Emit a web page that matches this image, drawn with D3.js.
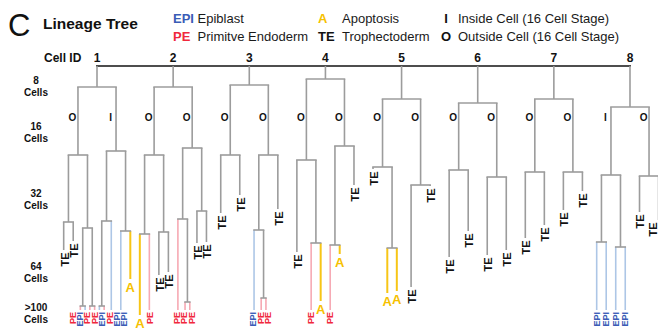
<!DOCTYPE html>
<html><head><meta charset="utf-8">
<script src="https://cdn.jsdelivr.net/npm/d3@7"></script>
<style>
body{margin:0;background:#fff}
svg{display:block}
text{font-family:"Liberation Sans",Arial,Helvetica,sans-serif}
</style>
</head><body>
<svg id="chart" width="658" height="329"></svg>
<script>
// ---------------- DATA ----------------
const cellIds = [1, 2, 3, 4, 5, 6, 7, 8];
const stageLabels = ["8", "16", "32", "64", ">100"];
const stageTimes = [4.5, 16, 32.75, 51, 61.25];
// 16-cell stage position of each daughter (left, right) per cell
const positionLabels = [["O","I"],["O","O"],["O","O"],["O","O"],["O","O"],["O","O"],["O","O"],["I","O"]];
const positionTime = 13.65;
// division events: [lineage path, time]
const divisions = [
  ["1",5.25],["1L",22.25],["1LL",39],["1LR",40.5],["1LRL",60],["1LRR",60],["1R",21.25],["1RL",38.75],["1RLL",60],["1RR",41.25],
  ["2",5.25],["2L",22.25],["2LL",42],["2LR",41.5],["2R",20.5],["2RL",38.25],["2RLR",59],["2RR",36.25],
  ["3",4.75],["3L",22.25],["3R",22.25],["3RL",41],["3RLR",58],
  ["4",3.25],["4L",23.5],["4LR",44.25],["4R",20],["4RL",44.75],
  ["5",8.25],["5L",25.25],["5LR",45.5],["5R",29.75],
  ["6",9.25],["6L",26],["6R",27.75],
  ["7",8.25],["7L",26.5],["7R",26.5],
  ["8",10.25],["8L",27.25],["8LL",44],["8LR",45.25],["8R",27.5]
];
// leaves: [lineage path, end time, fate]
const leaves = [
  ["1LLL",46,"TE"],["1LLR",43.75,"TE"],["1LRLL",61,"PE"],["1LRLR",61,"EPI"],["1LRRL",61,"PE"],["1LRRR",61,"PE"],
  ["1RLLL",61,"EPI"],["1RLLR",61,"PE"],["1RLR",61,"EPI"],["1RRL",61,"EPI"],["1RRR",53.25,"A"],
  ["2LLL",62.25,"A"],["2LLR",61,"PE"],["2LRL",52.25,"TE"],["2LRR",51.5,"TE"],["2RLL",61,"PE"],["2RLRL",61,"PE"],["2RLRR",61,"PE"],
  ["2RRL",44.25,"TE"],["2RRR",44,"TE"],
  ["3LL",36.75,"TE"],["3LR",32.25,"TE"],["3RLL",61,"EPI"],["3RLRL",61,"PE"],["3RLRR",61,"PE"],["3RR",35.75,"TE"],
  ["4LL",46.5,"TE"],["4LRL",61,"PE"],["4LRR",58.75,"A"],["4RLL",61,"PE"],["4RLR",47,"A"],["4RR",29.75,"TE"],
  ["5LL",25.75,"TE"],["5LRL",56.75,"A"],["5LRR",56.25,"A"],["5RL",55.25,"TE"],["5RR",30,"TE"],
  ["6LL",47.75,"TE"],["6LR",41.25,"TE"],["6RL",47.25,"TE"],["6RR",46,"TE"],
  ["7LL",43,"TE"],["7LR",39.75,"TE"],["7RL",36,"TE"],["7RR",31.25,"TE"],
  ["8LLL",61,"EPI"],["8LLR",61,"EPI"],["8LRL",61,"EPI"],["8LRR",61,"EPI"],["8RL",36.5,"TE"],["8RR",38.5,"TE"]
];
const legendKeys = ["EPI","PE","A","TE","I","O"];
const legendTexts = ["Epiblast","Primitve Endoderm","Apoptosis","Trophectoderm","Inside Cell (16 Cell Stage)","Outside Cell (16 Cell Stage)"];

// ---------------- STYLE ----------------
const labelColor = {EPI:"#3a5cb6", PE:"#f0283c", A:"#f6c100", TE:"#111", I:"#111", O:"#111"};
const lineColor = {EPI:"#adc6e6", PE:"#f6a9b3", A:"#f7c516", TE:"#9c9c9c"};
const gray = "#9c9c9c";
const W = 658;

const svg = d3.select("#chart");
const x = d3.scaleLinear().domain([0, 7]).range([97, 630]);
const y = d3.scaleLinear().domain([0, 61]).range([66, 310]);

function pos(path){
  let p = +path[0] - 1;
  for (let k = 1; k < path.length; k++) p += (path[k] === "L" ? -1 : 1) / Math.pow(2, k + 1);
  return p;
}

// build hierarchy
const rows = [{id:"root", parentId:null, t:0}];
divisions.forEach(([id,t]) => rows.push({id, parentId: id.length === 1 ? "root" : id.slice(0,-1), t, leaf:false}));
leaves.forEach(([id,t,fate]) => rows.push({id, parentId: id.slice(0,-1), t, fate, leaf:true}));
const root = d3.stratify().id(d => d.id).parentId(d => d.parentId)(rows);

// ---------------- HEADER ----------------
svg.append("text").attr("x", 8).attr("y", 35.5).attr("font-size", 31).attr("fill", "#111").text("C");
svg.append("text").attr("x", 43).attr("y", 29.3).attr("font-size", 15.5).attr("font-weight", "bold").attr("fill", "#111").text("Lineage Tree");

const legendCols = [[173,197.5,"start"],[318,342,"start"],[446,458,"middle"]];
legendKeys.forEach((k, i) => {
  const col = legendCols[Math.floor(i / 2)], by = i % 2 === 0 ? 22.7 : 40.5;
  svg.append("text").attr("x", col[0]).attr("y", by).attr("text-anchor", col[2])
    .attr("font-size", 13).attr("font-weight", "bold").attr("fill", labelColor[k]).text(k);
  svg.append("text").attr("x", col[1]).attr("y", by).attr("font-size", 13).attr("fill", "#1a1a1a").text(legendTexts[i]);
});

svg.append("text").attr("x", 44).attr("y", 62).attr("font-size", 12).attr("font-weight", "bold").attr("fill", "#111").text("Cell ID");
svg.selectAll("text.cid").data(cellIds).join("text").attr("class", "cid")
  .attr("x", d => x(d - 1)).attr("y", 62).attr("text-anchor", "middle")
  .attr("font-size", 12).attr("font-weight", "bold").attr("fill", "#111").text(d => d);

// stage labels
stageLabels.forEach((s, i) => {
  const g = svg.append("text").attr("text-anchor", "middle").attr("font-size", 10).attr("font-weight", "bold").attr("fill", "#111");
  g.append("tspan").attr("x", 36).attr("y", y(stageTimes[i])).text(s);
  g.append("tspan").attr("x", 36).attr("y", y(stageTimes[i]) + 12.3).text("Cells");
});

// ---------------- TREE ----------------
const gLines = svg.append("g").attr("fill", "none");
// top bar
gLines.append("line").attr("x1", x(0)).attr("x2", x(7)).attr("y1", y(0)).attr("y2", y(0))
  .attr("stroke", "#4d4d4d").attr("stroke-width", 2).attr("stroke-linecap", "square");

const nodes = root.descendants().filter(n => n.depth > 0);
// verticals
nodes.forEach(n => {
  const px = x(pos(n.id));
  const y0 = n.parent.depth === 0 ? y(0) : y(n.parent.data.t);
  const col = n.data.leaf ? lineColor[n.data.fate] : gray;
  gLines.append("line").attr("x1", px).attr("x2", px).attr("y1", y0).attr("y2", y(n.data.t))
    .attr("stroke", col).attr("stroke-width", n.data.fate === "A" ? 2 : 1.6);
});
// horizontals (division brackets)
nodes.filter(n => !n.data.leaf).forEach(n => {
  const xs = n.children.map(c => x(pos(c.id)));
  gLines.append("line").attr("x1", d3.min(xs) - 0.8).attr("x2", d3.max(xs) + 0.8)
    .attr("y1", y(n.data.t)).attr("y2", y(n.data.t)).attr("stroke", gray).attr("stroke-width", 1.6);
});

// 16-cell O / I labels
positionLabels.forEach((pair, i) => {
  pair.forEach((lab, j) => {
    const path = String(cellIds[i]) + (j === 0 ? "L" : "R");
    svg.append("text").attr("x", x(pos(path)) - 5.5).attr("y", y(positionTime))
      .attr("text-anchor", "middle").attr("font-size", 10).attr("font-weight", "bold").attr("fill", "#111").text(lab);
  });
});

// leaf labels
const leafNodes = nodes.filter(n => n.data.leaf);
leafNodes.filter(n => n.data.fate === "TE").forEach(n => {
  const lx = Math.min(x(pos(n.id)) + 1, W - 4.5);
  svg.append("text").attr("transform", `translate(${lx},${y(n.data.t) + 2.5}) rotate(-90)`)
    .attr("text-anchor", "end").attr("dy", "0.36em").attr("font-size", 11).attr("font-weight", "bold")
    .attr("fill", labelColor.TE).text("TE");
});
leafNodes.filter(n => n.data.fate === "A").forEach(n => {
  svg.append("text").attr("x", x(pos(n.id))).attr("y", y(n.data.t) + 12.5)
    .attr("text-anchor", "middle").attr("font-size", 13).attr("font-weight", "bold")
    .attr("fill", labelColor.A).text("A");
});

// bottom EPI / PE labels, spread to avoid overlap
const bottom = leafNodes.filter(n => n.data.fate === "EPI" || n.data.fate === "PE")
  .map(n => ({n, tx: x(pos(n.id))})).sort((a, b) => a.tx - b.tx);
const gap = 7.4;
let clusters = bottom.map(d => ({items:[d]}));
function mean(c){ return d3.mean(c.items, d => d.tx); }
function ext(c){ const m = mean(c), h = (c.items.length - 1) / 2 * gap; return [m - h, m + h]; }
let merged = true;
while (merged) {
  merged = false;
  for (let i = 0; i < clusters.length - 1; i++) {
    if (ext(clusters[i + 1])[0] - ext(clusters[i])[1] < gap) {
      clusters[i] = {items: clusters[i].items.concat(clusters[i + 1].items)};
      clusters.splice(i + 1, 1);
      merged = true; break;
    }
  }
}
clusters.forEach(c => {
  const e = ext(c);
  c.items.forEach((d, j) => { d.lx = e[0] + j * gap; });
});
bottom.forEach(d => {
  svg.append("text").attr("transform", `translate(${d.lx},${y(d.n.data.t) + 2}) rotate(-90)`)
    .attr("text-anchor", "end").attr("dy", "0.36em").attr("font-size", 9).attr("font-weight", "bold")
    .attr("fill", labelColor[d.n.data.fate]).text(d.n.data.fate);
});
</script>
</body></html>
